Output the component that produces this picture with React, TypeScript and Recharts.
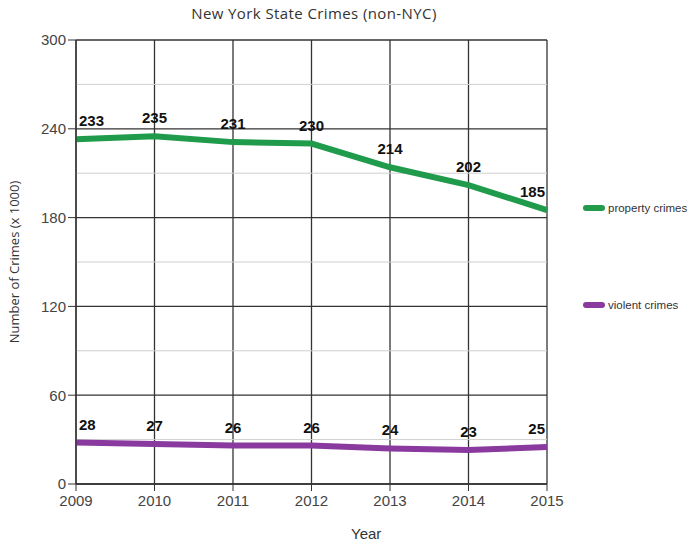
import React from "react";
import {
  LineChart,
  Line,
  XAxis,
  YAxis,
  CartesianGrid,
  ReferenceLine,
  Label,
} from "recharts";

const years = ["2009", "2010", "2011", "2012", "2013", "2014", "2015"];
const propertyCrimes = [233, 235, 231, 230, 214, 202, 185];
const violentCrimes = [28, 27, 26, 26, 24, 23, 25];
const yTicks = [0, 60, 120, 180, 240, 300];
const minorLines = [30, 90, 150, 210, 270];

const data = years.map((year, i) => ({
  year,
  property: propertyCrimes[i],
  violent: violentCrimes[i],
}));

const GREEN = "#1f9b4b";
const PURPLE = "#8a3a9e";
const last = years.length - 1;

const renderValue = ({ x, y, value, index }: any) => {
  const anchor = index === 0 ? "start" : index === last ? "end" : "middle";
  const dx = index === 0 ? 3 : index === last ? -2 : 0;
  return (
    <text
      x={x + dx}
      y={y - 13}
      textAnchor={anchor}
      fontFamily="Liberation Sans, Arial, sans-serif"
      fontWeight="bold"
      fontSize={15}
      fill="#111"
    >
      {value}
    </text>
  );
};

const legendItems = [
  { name: "property crimes", color: GREEN },
  { name: "violent crimes", color: PURPLE },
];

export default function App() {
  return (
    <div style={{ position: "absolute", left: 0, top: 0, width: 700, height: 546, background: "#fff" }}>
      <div
        style={{
          position: "absolute",
          left: 0,
          width: 628,
          top: 3,
          textAlign: "center",
          fontFamily: "Open Sans, sans-serif",
          fontSize: 15,
          letterSpacing: 0.4,
          color: "#333",
        }}
      >
        New York State Crimes (non-NYC)
      </div>
      <div
        style={{
          position: "absolute",
          left: 351,
          top: 525,
          fontFamily: "Liberation Sans, Arial, sans-serif",
          fontSize: 15,
          color: "#333",
        }}
      >
        Year
      </div>
      <div
        style={{
          position: "absolute",
          left: 583,
          top: 202,
          fontFamily: "Liberation Sans, Arial, sans-serif",
          fontSize: 11.5,
          color: "#333",
          zIndex: 2,
        }}
      >
        {legendItems.map((item, i) => (
          <div
            key={item.name}
            style={{ display: "flex", alignItems: "center", marginBottom: i === 0 ? 85 : 0 }}
          >
            <span
              style={{
                display: "inline-block",
                width: 22,
                height: 6,
                borderRadius: 3,
                background: item.color,
                marginRight: 3,
              }}
            />
            {item.name}
          </div>
        ))}
      </div>
      <LineChart
        width={700}
        height={546}
        data={data}
        margin={{ top: 40, right: 153, bottom: 32, left: 0 }}
      >
        <CartesianGrid stroke="#333" strokeWidth={1.3} />
        {minorLines.map((v) => (
          <ReferenceLine key={v} y={v} stroke="#cfcfcf" strokeWidth={1} />
        ))}
        <XAxis
          dataKey="year"
          height={30}
          tickSize={7}
          tickLine={{ stroke: "#333" }}
          axisLine={{ stroke: "#333", strokeWidth: 1.3 }}
          tick={{ fill: "#444", fontSize: 15, fontFamily: "Liberation Sans, Arial, sans-serif", dy: 2 }}
          interval={0}
        />
        <YAxis
          width={76}
          domain={[0, 300]}
          ticks={yTicks}
          tickSize={8}
          tickLine={{ stroke: "#333" }}
          axisLine={{ stroke: "#333", strokeWidth: 1.3 }}
          tick={{ fill: "#444", fontSize: 15, fontFamily: "Liberation Sans, Arial, sans-serif" }}
        >
          <Label
            value="Number of Crimes (x 1000)"
            angle={-90}
            position="insideLeft"
            offset={14}
            style={{ textAnchor: "middle", fill: "#333", fontSize: 13, fontFamily: "Open Sans, sans-serif" }}
          />
        </YAxis>
        <Line
          dataKey="property"
          name="property crimes"
          stroke={GREEN}
          strokeWidth={6}
          dot={false}
          isAnimationActive={false}
          label={renderValue}
        />
        <Line
          dataKey="violent"
          name="violent crimes"
          stroke={PURPLE}
          strokeWidth={6}
          dot={false}
          isAnimationActive={false}
          label={renderValue}
        />
      </LineChart>
    </div>
  );
}
